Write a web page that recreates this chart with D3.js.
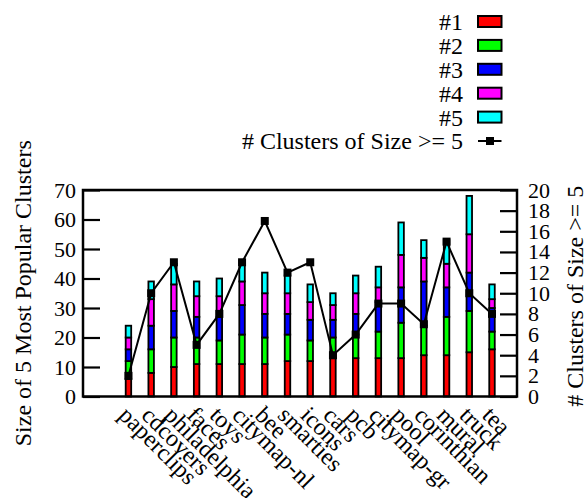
<!DOCTYPE html>
<html>
<head>
<meta charset="utf-8">
<script src="https://cdn.jsdelivr.net/npm/d3@7"></script>
<style>
  body { margin: 0; background: #fff; }
  text { font-family: "Liberation Serif", "Times New Roman", serif; fill: #000; }
</style>
</head>
<body>
<svg id="canvas" width="587" height="498"></svg>
<script>
// categories along the x axis
const categories = ["paperclips", "cdcovers", "philadelphia", "faces", "toys", "citymap-nl",
  "bee", "smarties", "icons", "cars", "pcb", "citymap-gr", "pool", "corinthian", "mural", "truck", "tea"];

// sizes of the 5 most popular clusters (stacked)
const rank1 = [6, 8, 10, 11, 11, 11, 11, 12, 12, 13, 13, 13, 13, 14, 14, 15, 16];
const rank2 = [6, 8, 10, 9, 8, 10, 9, 9, 7, 7, 8, 9, 12, 10, 13, 14, 6];
const rank3 = [4, 8, 9, 7, 8, 10, 8, 7, 7, 6, 7, 10, 12, 15, 10, 13, 8];
const rank4 = [4, 9, 9, 7, 7, 8, 7, 7, 6, 5, 7, 5, 11, 8, 8, 13, 3];
const rank5 = [4, 6, 7, 5, 6, 7, 7, 6, 6, 4, 6, 7, 11, 6, 8, 13, 5];

// number of clusters of size >= 5 (right axis)
const bigClusters = [2, 10, 13, 5, 8, 13, 17, 12, 13, 4, 6, 9, 9, 7, 15, 10, 8];

const seriesNames = ["#1", "#2", "#3", "#4", "#5"];
const seriesColors = ["#ff0000", "#00ff00", "#0000ff", "#ff00ff", "#00ffff"];
const leftTicks = [0, 10, 20, 30, 40, 50, 60, 70];
const rightTicks = [0, 2, 4, 6, 8, 10, 12, 14, 16, 18, 20];

const canvas = d3.select("#canvas");
const plotLeft = 83, plotRight = 517, plotTop = 190, plotBottom = 396.5;
const fontSize = 24;

const x = d3.scaleLinear().domain([-2, 17.1]).range([plotLeft, plotRight]);
const y = d3.scaleLinear().domain([0, 70]).range([plotBottom, plotTop]);
const y2 = d3.scaleLinear().domain([0, 20]).range([plotBottom, plotTop]);

// stacked table
const table = categories.map((c, i) => ({
  name: c, r1: rank1[i], r2: rank2[i], r3: rank3[i], r4: rank4[i], r5: rank5[i]
}));
const stack = d3.stack().keys(["r1", "r2", "r3", "r4", "r5"])(table);

// bars
const barW = 5.5;
stack.forEach((layer, k) => {
  canvas.append("g")
    .selectAll("rect")
    .data(layer)
    .enter()
    .append("rect")
    .attr("x", (d, i) => x(i) - barW / 2)
    .attr("y", d => y(d[1]))
    .attr("width", barW)
    .attr("height", d => y(d[0]) - y(d[1]))
    .attr("fill", seriesColors[k])
    .attr("stroke", "#000")
    .attr("stroke-width", 1.8);
});

// line of cluster counts
const line = d3.line().x((d, i) => x(i)).y(d => y2(d));
canvas.append("path")
  .datum(bigClusters)
  .attr("d", line)
  .attr("fill", "none")
  .attr("stroke", "#000")
  .attr("stroke-width", 2);
canvas.append("g")
  .selectAll("rect")
  .data(bigClusters)
  .enter()
  .append("rect")
  .attr("x", (d, i) => x(i) - 4)
  .attr("y", d => y2(d) - 4)
  .attr("width", 8)
  .attr("height", 8)
  .attr("fill", "#000");

// axes: ticks pointing inward
const leftAxis = d3.axisLeft(y).tickValues(leftTicks).tickSize(-17).tickPadding(7);
const gl = canvas.append("g").attr("transform", `translate(${plotLeft},0)`).call(leftAxis);
const rightAxis = d3.axisRight(y2).tickValues(rightTicks).tickSize(-17).tickPadding(11);
const gr = canvas.append("g").attr("transform", `translate(${plotRight},0)`).call(rightAxis);
[gl, gr].forEach(g => {
  g.select(".domain").remove();
  g.selectAll("line").attr("stroke", "#000").attr("stroke-width", 2.2);
  g.selectAll("text").attr("font-size", 22);
});

// border box
canvas.append("rect")
  .attr("x", plotLeft).attr("y", plotTop)
  .attr("width", plotRight - plotLeft).attr("height", plotBottom - plotTop)
  .attr("fill", "none").attr("stroke", "#000").attr("stroke-width", 2.5);

// x labels, rotated
canvas.append("g")
  .selectAll("text")
  .data(categories)
  .enter()
  .append("text")
  .attr("transform", (d, i) => `translate(${x(i) - 5},${plotBottom + 14}) rotate(45)`)
  .attr("font-size", fontSize)
  .attr("dy", "0.35em")
  .text(d => d);

// axis titles
canvas.append("text")
  .attr("transform", `translate(31,${(plotTop + plotBottom) / 2}) rotate(-90)`)
  .attr("text-anchor", "middle")
  .attr("font-size", fontSize)
  .text("Size of 5 Most Popular Clusters");
canvas.append("text")
  .attr("transform", `translate(583,${(plotTop + plotBottom) / 2 + 3}) rotate(-90)`)
  .attr("text-anchor", "middle")
  .attr("font-size", fontSize)
  .text("# Clusters of Size >= 5");

// legend
const legend = canvas.append("g");
const rowY = i => 21.5 + i * 23.9;
seriesNames.forEach((s, i) => {
  legend.append("text")
    .attr("x", 463).attr("y", rowY(i)).attr("dy", "0.35em")
    .attr("text-anchor", "end").attr("font-size", fontSize)
    .text(s);
  legend.append("rect")
    .attr("x", 478).attr("y", rowY(i) - 5.5)
    .attr("width", 23.5).attr("height", 11)
    .attr("fill", seriesColors[i]).attr("stroke", "#000").attr("stroke-width", 2);
});
legend.append("text")
  .attr("x", 463).attr("y", rowY(5)).attr("dy", "0.35em")
  .attr("text-anchor", "end").attr("font-size", fontSize)
  .text("# Clusters of Size >= 5");
legend.append("line")
  .attr("x1", 478).attr("x2", 501.5).attr("y1", rowY(5)).attr("y2", rowY(5))
  .attr("stroke", "#000").attr("stroke-width", 2);
legend.append("rect")
  .attr("x", 486).attr("y", rowY(5) - 4).attr("width", 8).attr("height", 8)
  .attr("fill", "#000");
</script>
</body>
</html>
